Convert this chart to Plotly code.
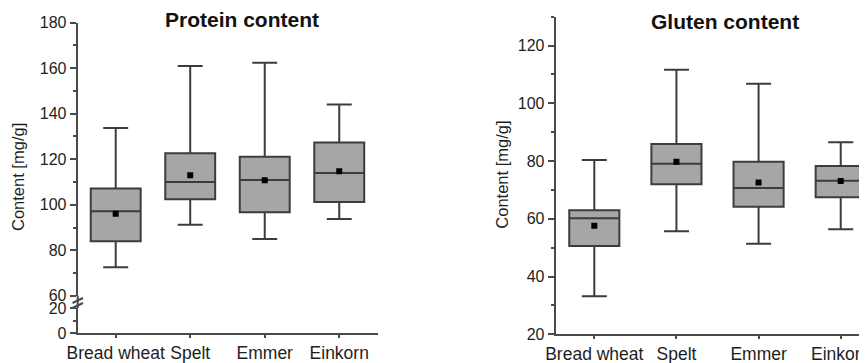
import plotly.graph_objects as go

W, H = 867, 363
OFF = 8  # page body margin in the browser
PW, PH = W - OFF, H - OFF

categories = ["Bread wheat", "Spelt", "Emmer", "Einkorn"]

# Protein content [mg/g]
protein_lower = [72.5, 91.2, 85.0, 93.8]
protein_q1 = [84.0, 102.4, 96.7, 101.2]
protein_median = [97.1, 110.0, 110.9, 114.0]
protein_q3 = [107.1, 122.6, 121.1, 127.4]
protein_upper = [133.7, 161.0, 162.4, 144.1]
protein_mean = [96.1, 113.0, 110.8, 114.7]

# Gluten content [mg/g]
gluten_lower = [33.2, 55.7, 51.4, 56.4]
gluten_q1 = [50.6, 72.0, 64.2, 67.5]
gluten_median = [60.2, 79.1, 70.7, 73.2]
gluten_q3 = [63.0, 85.9, 79.8, 78.3]
gluten_upper = [80.4, 111.6, 106.8, 86.5]
gluten_mean = [57.6, 79.8, 72.6, 73.1]

protein_ticks = [60, 80, 100, 120, 140, 160, 180]
protein_low_ticks = [0, 20]
gluten_ticks = [20, 40, 60, 80, 100, 120]

FILL = "#a6a6a6"
LINE = "#3c3c3c"
AXC = "#4a4a4a"
FONT = "Liberation Sans, Arial, sans-serif"
TXT = "#1e1e1e"

def px_x(p):
    return (p - OFF) / PW

def px_y(p):
    return 1 - (p - OFF) / PH

fig = go.Figure()

fig.add_trace(go.Box(
    x=categories, q1=protein_q1, median=protein_median, q3=protein_q3,
    lowerfence=protein_lower, upperfence=protein_upper,
    fillcolor=FILL, line=dict(color=LINE, width=2), width=0.67,
    whiskerwidth=0.5, boxpoints=False, xaxis="x", yaxis="y", showlegend=False,
))
fig.add_trace(go.Scatter(
    x=categories, y=protein_mean, mode="markers",
    marker=dict(symbol="square", size=6, color="black"),
    xaxis="x", yaxis="y", showlegend=False,
))
fig.add_trace(go.Box(
    x=categories, q1=gluten_q1, median=gluten_median, q3=gluten_q3,
    lowerfence=gluten_lower, upperfence=gluten_upper,
    fillcolor=FILL, line=dict(color=LINE, width=2), width=0.61,
    whiskerwidth=0.5, boxpoints=False, xaxis="x2", yaxis="y2", showlegend=False,
))
fig.add_trace(go.Scatter(
    x=categories, y=gluten_mean, mode="markers",
    marker=dict(symbol="square", size=6, color="black"),
    xaxis="x2", yaxis="y2", showlegend=False,
))
# empty trace to create the lower (broken) segment of the left y axis
fig.add_trace(go.Scatter(x=[], y=[], xaxis="x", yaxis="y3", showlegend=False))

common_y = dict(
    showline=True, linecolor=AXC, linewidth=2, showgrid=False, zeroline=False,
    ticks="outside", ticklen=6, tickwidth=2, tickcolor=AXC,
    tickfont=dict(family=FONT, size=16, color=TXT),
    minor=dict(ticks="outside", ticklen=3, tickwidth=2, tickcolor=AXC, dtick=10),
    automargin=False,
)
common_x = dict(
    showline=True, linecolor=AXC, linewidth=2, showgrid=False, zeroline=False,
    ticks="outside", ticklen=3, tickwidth=2, tickcolor=AXC,
    tickfont=dict(family=FONT, size=17.5, color=TXT), automargin=False,
    type="category",
)

fig.update_layout(
    width=PW, height=PH,
    margin=dict(l=0, r=0, t=0, b=0),
    paper_bgcolor="white", plot_bgcolor="white",
    showlegend=False,
    xaxis=dict(common_x, domain=[px_x(77.7), px_x(378)], range=[-0.51, 3.52],
               anchor="y3"),
    yaxis=dict(common_y, domain=[px_y(295.8), px_y(22.7)], range=[60, 180],
               tickvals=protein_ticks, anchor="x"),
    yaxis3=dict(common_y, domain=[px_y(333.3), px_y(308)], range=[0, 20],
                tickvals=protein_low_ticks, anchor="x"),
    xaxis2=dict(common_x, domain=[px_x(555.7), 1.0], range=[-0.47, 3.32],
                anchor="y2"),
    yaxis2=dict(common_y, domain=[px_y(334.3), px_y(16.7)], range=[20, 130],
                tickvals=gluten_ticks, anchor="x2"),
)

ann = dict(xref="paper", yref="paper", showarrow=False,
           xanchor="center", yanchor="middle")
fig.add_annotation(ann, text="<b>Protein content</b>",
                   x=px_x(241.7), y=px_y(20),
                   font=dict(family=FONT, size=21, color="#111111"))
fig.add_annotation(ann, text="<b>Gluten content</b>",
                   x=px_x(725), y=px_y(22),
                   font=dict(family=FONT, size=21, color="#111111"))
fig.add_annotation(ann, text="Content [mg/g]",
                   x=px_x(18), y=px_y(177), textangle=-90,
                   font=dict(family=FONT, size=16.5, color=TXT))
fig.add_annotation(ann, text="Content [mg/g]",
                   x=px_x(501.7), y=px_y(175), textangle=-90,
                   font=dict(family=FONT, size=16.5, color=TXT))

# axis-break marks on the left y axis
for y0 in (300.5, 305.5):
    fig.add_shape(type="line", xref="paper", yref="paper",
                  x0=px_x(72.5), y0=px_y(y0 + 2.5), x1=px_x(83), y1=px_y(y0 - 2.5),
                  line=dict(color=AXC, width=2))
fig.add_shape(type="line", xref="paper", yref="paper",
              x0=px_x(77.7), y0=px_y(308), x1=px_x(77.7), y1=px_y(295.8),
              line=dict(color=AXC, width=2))

fig.write_html("out.html")
